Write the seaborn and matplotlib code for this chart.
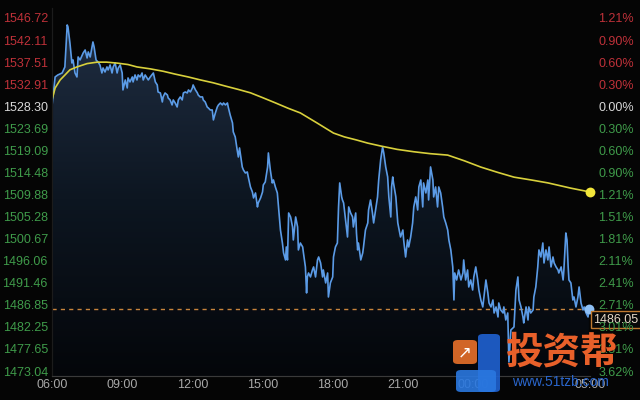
import matplotlib

matplotlib.use("Agg")
import matplotlib.pyplot as plt
import numpy as np
import pandas as pd
import seaborn as sns
from matplotlib.colors import LinearSegmentedColormap
from matplotlib.patches import FancyBboxPatch

# minutes after 06:00 and last price
MINUTES = [
    0, 8, 15, 26, 33, 39, 41, 46, 51, 54,
    59, 64, 67, 72, 80, 85, 90, 93, 98, 105,
    108, 113, 118, 123, 128, 131, 136, 141, 144, 149,
    154, 157, 162, 167, 170, 175, 180, 182, 188, 193,
    195, 200, 206, 208, 213, 218, 221, 226, 231, 234,
    239, 244, 247, 252, 260, 265, 270, 272, 278, 283,
    285, 290, 296, 298, 303, 308, 311, 316, 321, 324,
    329, 334, 337, 342, 347, 350, 355, 360, 362, 368,
    373, 375, 380, 386, 388, 393, 398, 401, 406, 411,
    414, 419, 424, 427, 432, 437, 440, 445, 450, 452,
    457, 463, 465, 470, 475, 478, 481, 486, 488, 491,
    496, 501, 504, 509, 514, 517, 522, 527, 529, 535,
    540, 542, 547, 553, 555, 560, 565, 568, 573, 578,
    581, 586, 591, 594, 599, 601, 604, 607, 612, 617,
    619, 625, 630, 632, 637, 643, 645, 650, 653, 655,
    658, 663, 668, 671, 676, 681, 684, 689, 694, 696,
    702, 707, 709, 714, 720, 722, 727, 732, 735, 738,
    743, 745, 748, 753, 758, 761, 766, 771, 773, 779,
    781, 784, 786, 792, 797, 799, 804, 810, 812, 817,
    822, 825, 830, 835, 838, 843, 848, 851, 856, 861,
    864, 869, 871, 874, 876, 882, 887, 889, 894, 900,
    902, 907, 912, 915, 920, 925, 928, 933, 938, 941,
    946, 951, 953, 959, 964, 966, 971, 977, 979, 984,
    989, 992, 997, 1002, 1005, 1010, 1015, 1018, 1023, 1028,
    1031, 1033, 1038, 1043, 1049, 1054, 1056, 1061, 1066, 1069,
    1074, 1079, 1082, 1087, 1092, 1095, 1100, 1105, 1108, 1113,
    1118, 1121, 1126, 1131, 1134, 1139, 1144, 1146, 1151, 1157,
    1159, 1164, 1169, 1172, 1177, 1185, 1190, 1195, 1198, 1203,
    1208, 1210, 1216, 1221, 1223, 1228, 1234, 1236, 1241, 1246,
    1249, 1254, 1259, 1262, 1267, 1272, 1275, 1280, 1285, 1288,
    1293, 1298, 1300, 1306, 1311, 1313, 1318, 1321, 1324, 1326,
    1331, 1336, 1339, 1344, 1349, 1352, 1357, 1362, 1365, 1370,
    1375, 1377,
]
PRICES = [
    1528.36, 1534.41, 1534.83, 1535.24, 1536.50, 1545.26, 1544.84, 1541.50, 1537.33, 1537.96,
    1535.24, 1534.41, 1538.58, 1537.96, 1539.42, 1540.04, 1538.37, 1539.63, 1538.58, 1541.71,
    1540.67, 1537.96, 1537.54, 1536.91, 1535.24, 1536.29, 1535.45, 1536.50, 1535.87, 1536.91,
    1535.24, 1536.50, 1537.33, 1535.24, 1536.29, 1536.91, 1535.24, 1531.70, 1533.78, 1532.11,
    1534.20, 1533.37, 1534.41, 1533.37, 1534.83, 1533.78, 1534.83, 1534.41, 1535.24, 1533.78,
    1534.83, 1534.20, 1533.78, 1534.41, 1535.24, 1533.37, 1532.74, 1531.28, 1531.07, 1529.19,
    1530.24, 1531.07, 1530.65, 1530.03, 1529.61, 1528.57, 1529.61, 1528.98, 1528.15, 1529.61,
    1530.24, 1529.61, 1531.07, 1531.28, 1531.07, 1531.70, 1531.28, 1532.11, 1532.74, 1531.70,
    1531.07, 1530.65, 1530.24, 1530.24, 1529.61, 1529.19, 1528.15, 1527.94, 1527.52, 1527.52,
    1525.44, 1526.89, 1528.15, 1528.57, 1528.98, 1528.57, 1528.98, 1528.57, 1528.98, 1528.15,
    1526.48, 1524.81, 1522.93, 1521.89, 1519.17, 1517.71, 1519.59, 1516.67, 1515.63, 1515.00,
    1514.37, 1514.58, 1513.33, 1511.45, 1510.41, 1509.16, 1510.20, 1507.28, 1508.11, 1509.16,
    1510.41, 1511.87, 1512.50, 1515.63, 1518.55, 1515.00, 1512.29, 1512.91, 1511.45, 1510.20,
    1507.28, 1502.47, 1499.76, 1497.68, 1496.22, 1498.93, 1496.22, 1506.02, 1505.19, 1503.10,
    1500.39, 1505.19, 1503.10, 1498.31, 1499.76, 1498.93, 1497.68, 1494.76, 1489.33, 1492.67,
    1493.50, 1492.67, 1494.13, 1494.76, 1492.67, 1496.22, 1496.84, 1495.59, 1492.67, 1494.13,
    1491.42, 1493.50, 1488.49, 1491.42, 1492.67, 1496.84, 1498.93, 1499.76, 1507.28, 1512.29,
    1509.37, 1508.74, 1508.11, 1504.57, 1501.01, 1507.28, 1506.02, 1505.19, 1503.10, 1506.02,
    1501.85, 1498.31, 1499.76, 1496.22, 1497.68, 1498.93, 1502.47, 1503.94, 1506.65, 1508.74,
    1506.02, 1503.94, 1506.65, 1509.37, 1512.91, 1517.09, 1519.80, 1518.55, 1515.63, 1513.54,
    1509.37, 1505.19, 1511.45, 1513.54, 1512.29, 1509.37, 1503.94, 1503.10, 1501.01, 1502.47,
    1500.39, 1496.84, 1500.39, 1498.93, 1501.01, 1503.94, 1507.28, 1509.37, 1506.65, 1511.45,
    1512.91, 1507.28, 1512.29, 1510.20, 1512.91, 1508.74, 1515.63, 1512.91, 1509.37, 1511.45,
    1507.28, 1511.45, 1510.20, 1507.28, 1505.19, 1503.94, 1502.47, 1500.39, 1498.31, 1494.76,
    1487.87, 1493.50, 1492.04, 1494.13, 1492.04, 1493.50, 1496.22, 1492.04, 1494.13, 1490.58,
    1492.04, 1489.95, 1492.67, 1494.76, 1492.04, 1489.95, 1487.87, 1486.41, 1488.49, 1492.04,
    1489.33, 1487.24, 1486.41, 1487.87, 1485.15, 1486.41, 1484.32, 1487.24, 1485.78, 1485.15,
    1486.41, 1483.69, 1485.15, 1474.93, 1481.61, 1482.23, 1489.95, 1492.67, 1487.87, 1486.41,
    1484.32, 1483.07, 1486.41, 1483.69, 1486.41, 1485.15, 1485.78, 1488.49, 1490.58, 1494.76,
    1498.31, 1496.84, 1499.76, 1495.59, 1498.31, 1496.22, 1498.93, 1494.76, 1496.84, 1495.59,
    1494.76, 1494.13, 1493.50, 1494.76, 1492.04, 1494.13, 1501.85, 1500.39, 1494.76, 1492.04,
    1491.42, 1487.87, 1488.49, 1486.41, 1488.49, 1490.58, 1487.24, 1485.78, 1486.41, 1485.15,
    1484.32, 1486.05,
]

# average price line
AVG_MINUTES = [0, 8, 21, 33, 46, 64, 90, 116, 140, 167, 195, 218, 252, 285,
               316, 350, 380, 413, 445, 478, 509, 540, 573, 605, 637, 680,
               722, 750, 779, 810, 843, 885, 928, 970, 1015, 1058, 1100,
               1143, 1185, 1230, 1272, 1331, 1380]
AVG_PRICES = [1529.6, 1532.1, 1533.8, 1534.8, 1535.9, 1536.5, 1537.2, 1537.5,
              1537.5, 1537.3, 1537.0, 1536.5, 1536.1, 1535.6, 1535.0, 1534.4,
              1533.8, 1533.2, 1532.5, 1531.8, 1531.1, 1530.1, 1529.0, 1527.9,
              1526.9, 1524.8, 1522.7, 1521.9, 1521.3, 1520.6, 1520.0, 1519.3,
              1518.8, 1518.4, 1518.1, 1516.9, 1515.6, 1514.5, 1513.5, 1512.9,
              1512.3, 1511.2, 1510.4]

LAST_PRICE = 1486.05
BASE_PRICE = 1528.30

PRICE_TICKS = [1546.72, 1542.11, 1537.51, 1532.91, 1528.30, 1523.69, 1519.09,
               1514.48, 1509.88, 1505.28, 1500.67, 1496.06, 1491.46, 1486.85,
               1482.25, 1477.65, 1473.04]
PCT_LABELS = ["1.21%", "0.90%", "0.60%", "0.30%", "0.00%", "0.30%", "0.60%",
              "0.90%", "1.21%", "1.51%", "1.81%", "2.11%", "2.41%", "2.71%",
              "3.01%", "3.31%", "3.62%"]
TIME_TICKS = [0, 180, 360, 540, 720, 900, 1080, 1380]
TIME_LABELS = ["06:00", "09:00", "12:00", "15:00", "18:00", "21:00", "00:00", "05:00"]

BG = "#050505"
RED = "#bf3139"
GREEN = "#3f9b4a"
NEUTRAL = "#d8d8d8"

assert len(MINUTES) == len(PRICES)
assert len(AVG_MINUTES) == len(AVG_PRICES)

sns.set_style("dark", {"axes.facecolor": BG, "figure.facecolor": BG})
plt.rcParams["font.family"] = ["Liberation Sans", "DejaVu Sans"]

df = pd.DataFrame({"minute": MINUTES, "price": PRICES})
avg = pd.DataFrame({"minute": AVG_MINUTES, "price": AVG_PRICES})

y_min, y_max = 1472.0, 1548.8

fig = plt.figure(figsize=(6.4, 4.0), dpi=100)
ax = fig.add_axes([52 / 640, 0.06, 538 / 640, 0.92])
ax.set_facecolor(BG)

# gradient fill under the price line
poly = ax.fill_between(df["minute"], df["price"], y_min, color="none", lw=0)
cmap = LinearSegmentedColormap.from_list("fill", ["#04060a", "#0d1621", "#202e43"])
grad = np.linspace(1, 0, 256).reshape(-1, 1)
img = ax.imshow(grad, extent=[0, 1380, y_min, 1546.0], aspect="auto",
                cmap=cmap, origin="upper", zorder=1)
img.set_clip_path(poly.get_paths()[0], transform=ax.transData)

sns.lineplot(data=df, x="minute", y="price", ax=ax, color="#5b9be6",
             linewidth=1.2, estimator=None, sort=False, zorder=3)
sns.lineplot(data=avg, x="minute", y="price", ax=ax, color="#d8d03c",
             linewidth=1.2, estimator=None, sort=False, zorder=4)

ax.scatter([MINUTES[-1]], [PRICES[-1]], s=50, color="#8ec0f5", zorder=5, lw=0,
           clip_on=False)
ax.scatter([AVG_MINUTES[-1]], [AVG_PRICES[-1]], s=50, color="#f2e63a", zorder=5,
           lw=0, clip_on=False)

ax.axhline(LAST_PRICE, color="#c8843c", lw=1, ls=(0, (3, 3)), zorder=2)
ax.annotate(f"{LAST_PRICE:.2f}", xy=(1, LAST_PRICE),
            xycoords=("axes fraction", "data"), xytext=(3, -11),
            textcoords="offset pixels", ha="left", va="center", fontsize=9,
            color="#e6d8c6", annotation_clip=False, zorder=6,
            bbox=dict(boxstyle="square,pad=0.2", fc="#080808", ec="#c07a30", lw=1))

ax.set_xlim(0, 1380)
ax.set_ylim(y_min, y_max)
ax.set_xticks(TIME_TICKS)
ax.set_xticklabels(TIME_LABELS)
ax.set_yticks(PRICE_TICKS)
ax.set_yticklabels([f"{v:.2f}" for v in PRICE_TICKS])
ax.set_xlabel("")
ax.set_ylabel("")
ax.grid(False)
ax.tick_params(axis="both", length=0, labelsize=9)
ax.tick_params(axis="x", colors="#a8a8a8", pad=2)
ax.tick_params(axis="y", pad=3)


def tick_color(v):
    if v > BASE_PRICE + 0.01:
        return RED
    if v < BASE_PRICE - 0.01:
        return GREEN
    return NEUTRAL


for lab, v in zip(ax.get_yticklabels(), PRICE_TICKS):
    lab.set_color(tick_color(v))

ax2 = ax.twinx()
ax2.set_ylim(y_min, y_max)
ax2.set_yticks(PRICE_TICKS)
ax2.set_yticklabels(PCT_LABELS)
ax2.tick_params(axis="y", length=0, labelsize=9, pad=6)
for lab, v in zip(ax2.get_yticklabels(), PRICE_TICKS):
    lab.set_color(tick_color(v))
ax2.grid(False)

for a in (ax, ax2):
    for side in ("top", "right"):
        a.spines[side].set_visible(False)
    a.spines["left"].set_color("#1c1c1c")
    a.spines["bottom"].set_color("#3a3a3a")

# watermark logo (rough shapes) and text
logo = [
    ((478, 334, 22, 58), "#1f62d2"),
    ((456, 370, 40, 22), "#2a78e0"),
    ((453, 340, 24, 24), "#e8702a"),
]
for (x0, y0, w, h), c in logo:
    fig.patches.append(FancyBboxPatch(
        (x0 / 640, 1 - (y0 + h) / 400), w / 640, h / 400,
        boxstyle="round,pad=0,rounding_size=0.008", transform=fig.transFigure,
        fc=c, ec="none", alpha=0.9, zorder=9))
fig.text(465 / 640, 1 - 352 / 400, "↗", fontsize=12, color="white",
         ha="center", va="center", zorder=10, family=["DejaVu Sans"])
fig.text(562 / 640, 1 - 352 / 400, "投资帮", fontsize=27, color="#e8602a",
         weight="bold", ha="center", va="center",
         family=["Noto Sans CJK SC", "DejaVu Sans"], zorder=10)
fig.text(560 / 640, 1 - 382 / 400, "www.51tzb.com", fontsize=10, color="#2a66cc",
         ha="center", va="center", zorder=10)

fig.savefig("out.png", dpi=100, facecolor=BG)
